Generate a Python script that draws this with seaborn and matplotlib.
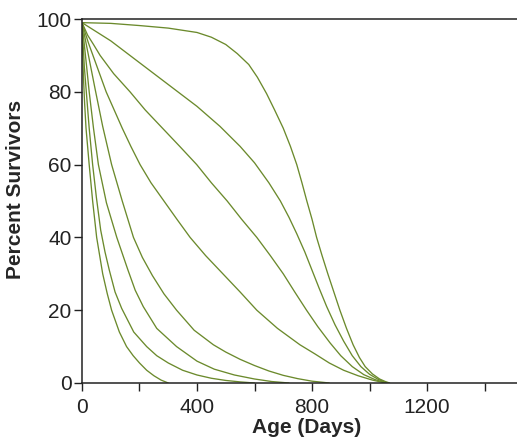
import pandas as pd
import numpy as np
import matplotlib
matplotlib.use("Agg")
import matplotlib.pyplot as plt
import seaborn as sns

# survival curves (age in days, percent surviving)
a_age = [0, 100, 200, 300, 400, 450, 500, 540, 580, 610, 642, 670, 700, 725, 747, 765, 782, 800,
         816, 835, 855, 876, 897, 920, 943, 965, 985, 1010, 1035, 1055, 1070]
a_pct = [99, 98.8, 98.2, 97.5, 96.3, 95, 93, 90.5, 87.5, 84, 79.5, 75, 70, 65, 60, 55, 50, 45,
         40, 35, 30, 25, 20, 15, 10.5, 7, 4.5, 2.5, 1.1, 0.4, 0]
b_age = [0, 100, 200, 300, 400, 480, 550, 600, 650, 690, 720, 747, 775, 800, 825, 851, 880, 910,
         940, 970, 1000, 1030, 1062]
b_pct = [99, 94, 88, 82, 76, 70.5, 65, 60.5, 55, 50, 45.5, 41, 36, 31, 26, 21, 16, 11.5,
         7.5, 4.5, 2.4, 1, 0]
c_age = [0, 20, 40, 63, 110, 167, 220, 280, 340, 399, 450, 505, 555, 608, 655, 700, 740, 781,
         820, 863, 900, 940, 980, 1020, 1060]
c_pct = [99, 95.5, 93, 90, 85, 80, 75, 70, 65, 60, 55, 50, 45, 40, 35, 30, 25, 20,
         15.5, 11, 7.5, 4.5, 2.3, 0.9, 0]
d_age = [0, 10, 22, 45, 84, 112, 140, 170, 202, 240, 285, 330, 376, 430, 490, 550, 608, 680,
         758, 810, 860, 910, 960, 1010, 1055]
d_pct = [99, 96.5, 93.5, 88.5, 80, 75, 70, 65, 60, 55, 50, 45, 40, 35, 30, 25, 20, 15,
         10.5, 8, 5.5, 3.5, 2, 0.8, 0]
e_age = [0, 10, 20, 30, 45, 72, 103, 140, 179, 210, 245, 285, 329, 390, 457, 500, 550, 600,
         650, 700, 750, 800, 860]
e_pct = [99, 95, 91, 87, 81, 70.5, 60, 50, 40, 34.5, 29.5, 24.5, 20, 14.5, 10.5, 8.5, 6.5, 4.8,
         3.3, 2.1, 1.2, 0.5, 0]
f_age = [0, 8, 16, 25, 40, 57, 85, 121, 160, 185, 213, 260, 329, 400, 460, 530, 600, 660, 720]
f_pct = [99, 93, 87, 80, 70, 60, 49.5, 40, 31, 25.5, 21, 15, 10, 6, 3.8, 2.2, 1.1, 0.4, 0]
g_age = [0, 4, 8, 15, 25, 37, 50, 65, 80, 95, 115, 138, 180, 225, 260, 300, 350, 400, 450, 500,
         550, 600]
g_pct = [99, 93, 87, 80, 70, 60, 51, 42, 36, 31, 25, 20.5, 14, 10, 7.5, 5.5, 3.5, 2.2, 1.3, 0.7,
         0.3, 0]
h_age = [0, 2, 5, 9, 14, 25, 37, 51, 72, 88, 103, 130, 155, 178, 200, 225, 250, 275, 300]
h_pct = [99, 92, 84, 77, 70, 60, 50, 40, 30, 24.5, 20, 14, 10, 7.5, 5.5, 3.5, 2, 0.8, 0]

curves = {"A": (a_age, a_pct), "B": (b_age, b_pct), "C": (c_age, c_pct), "D": (d_age, d_pct),
          "E": (e_age, e_pct), "F": (f_age, f_pct), "G": (g_age, g_pct), "H": (h_age, h_pct)}

x_major = [0, 400, 800, 1200]
x_minor = [200, 600, 1000, 1400]
y_ticks = [0, 20, 40, 60, 80, 100]

rows = []
for name, (ages, pcts) in curves.items():
    for a, p in zip(ages, pcts):
        rows.append({"curve": name, "age": a, "pct": p})
df = pd.DataFrame(rows)

sns.set_style("ticks")
plt.rcParams["font.family"] = ["Liberation Sans", "DejaVu Sans"]

fig = plt.figure(figsize=(5.17, 4.42), dpi=100)
ax = fig.add_axes([0.1586, 0.1335, 0.8414, 0.8235])

sns.lineplot(data=df, x="age", y="pct", units="curve", estimator=None,
             sort=False, color="#6b8a2c", linewidth=0.95, ax=ax)

ax.set_xlim(0, 1513)
ax.set_ylim(0, 100)
ax.set_xticks(x_major)
ax.set_xticks(x_minor, minor=True)
ax.set_yticks(y_ticks)
ax.tick_params(axis="both", which="both", direction="out", width=1.0, colors="#222222", labelsize=15)
ax.tick_params(axis="x", which="both", length=5.5, pad=5)
ax.tick_params(axis="y", length=5.5, pad=2)

for s in ["left", "bottom", "top"]:
    ax.spines[s].set_linewidth(1.1)
    ax.spines[s].set_color("#222222")
ax.spines["right"].set_visible(False)

ax.set_xlabel("Age (Days)", fontsize=15, fontweight="bold")
ax.set_ylabel("Percent Survivors", fontsize=15, fontweight="bold")
ax.xaxis.set_label_coords(0.517, -0.096)
ax.yaxis.set_label_coords(-0.131, 0.533)

fig.savefig("out.png", dpi=100)
